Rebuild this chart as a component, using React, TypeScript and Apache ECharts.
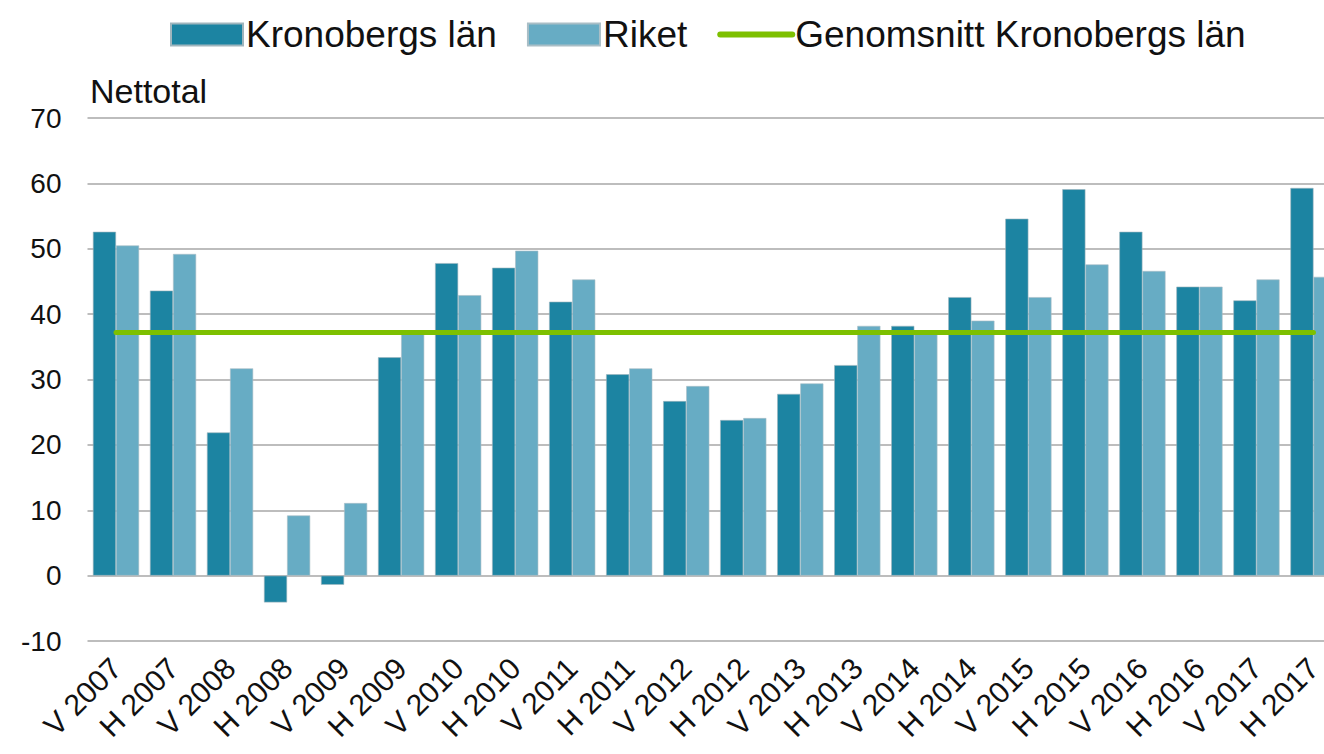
import React, { useEffect, useRef } from "react";
import * as echarts from "echarts";

const categories = [
  "V 2007", "H 2007", "V 2008", "H 2008", "V 2009", "H 2009", "V 2010", "H 2010",
  "V 2011", "H 2011", "V 2012", "H 2012", "V 2013", "H 2013", "V 2014", "H 2014",
  "V 2015", "H 2015", "V 2016", "H 2016", "V 2017", "H 2017",
];
const kronoberg = [
  52.6, 43.6, 21.9, -4.1, -1.4, 33.4, 47.8, 47.1, 41.9, 30.8, 26.7,
  23.8, 27.8, 32.2, 38.2, 42.6, 54.6, 59.1, 52.6, 44.2, 42.1, 59.3,
];
const riket = [
  50.5, 49.2, 31.7, 9.2, 11.1, 37.0, 42.9, 49.7, 45.3, 31.7, 29.0,
  24.1, 29.4, 38.2, 37.5, 39.0, 42.6, 47.6, 46.6, 44.2, 45.3, 45.7,
];
const averageKronoberg = 37.2;
const yTicks = { min: -10, max: 70, interval: 10 };

export default function App() {
  const ref = useRef<HTMLDivElement>(null);
  useEffect(() => {
    if (!ref.current) return;
    const chart = echarts.init(ref.current, undefined, { renderer: "svg" });
    const font = "'Liberation Sans', Arial, sans-serif";
    chart.setOption({
      animation: false,
      textStyle: { fontFamily: font },
      legend: {
        top: 11,
        left: 165,
        itemWidth: 72,
        itemHeight: 22,
        itemGap: 30,
        textStyle: { fontSize: 37, color: "#111", fontFamily: font, padding: [0, 0, 0, -2] },
        data: [
          { name: "Kronobergs län", icon: "rect" },
          { name: "Riket", icon: "rect" },
          {
            name: "Genomsnitt Kronobergs län",
            itemStyle: { opacity: 0 },
            lineStyle: { width: 6, cap: "round", color: "#7DC000" },
          },
        ],
      },
      graphic: [
        {
          type: "text",
          left: 90,
          top: 74,
          style: { text: "Nettotal", fontSize: 34, fill: "#111", fontFamily: font },
        },
      ],
      grid: { left: 87.5, right: 0, top: 118, bottom: 113, containLabel: false },
      xAxis: {
        type: "category",
        data: categories,
        axisLine: { show: false, onZero: false },
        axisTick: { show: false },
        axisLabel: {
          rotate: 45,
          fontSize: 30,
          color: "#111",
          margin: 22,
          interval: 0,
          fontFamily: font,
        },
      },
      yAxis: {
        type: "value",
        min: yTicks.min,
        max: yTicks.max,
        interval: yTicks.interval,
        axisLine: { show: false },
        axisTick: { show: false },
        axisLabel: { fontSize: 28, color: "#111", margin: 26, fontFamily: font },
        splitLine: { lineStyle: { color: "#BDBDBD", width: 2 } },
      },
      series: [
        {
          name: "Kronobergs län",
          type: "bar",
          data: kronoberg,
          barGap: "0%",
          barCategoryGap: "19%",
          itemStyle: { color: "#1C84A2", borderColor: "#9FB5BD", borderWidth: 0.6 },
        },
        {
          name: "Riket",
          type: "bar",
          data: riket,
          itemStyle: { color: "#67ACC4", borderColor: "#A9BEC6", borderWidth: 0.6 },
        },
        {
          name: "Genomsnitt Kronobergs län",
          type: "line",
          data: categories.map(() => averageKronoberg),
          symbol: "none",
          lineStyle: { color: "#7DC000", width: 5, cap: "round" },
          itemStyle: { color: "#7DC000" },
        },
      ],
    });
    return () => chart.dispose();
  }, []);
  return (
    <div style={{ position: "fixed", left: 0, top: 0, width: 1324, height: 754, overflow: "hidden", background: "#fff" }}>
      <div ref={ref} style={{ width: 1342, height: 754 }} />
    </div>
  );
}
